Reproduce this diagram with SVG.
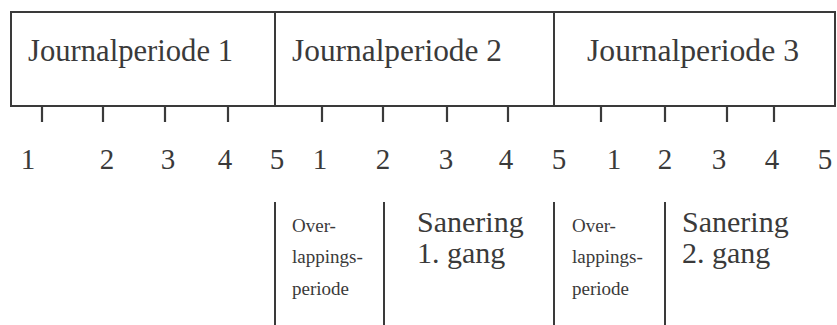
<svg xmlns="http://www.w3.org/2000/svg" width="837" height="325" viewBox="0 0 837 325">
  <style>
    .ln { stroke: #3a3a3a; stroke-width: 2; fill: none; }
    .tk { stroke: #3a3a3a; stroke-width: 2.2; }
    .t { font-family: 'Liberation Serif', 'DejaVu Serif', serif; fill: #3a3a3a; }
    .title { font-size: 32px; }
    .num { font-size: 29px; text-anchor: middle; }
    .small { font-size: 19px; }
    .big { font-size: 30px; }
  </style>
  <rect width="837" height="325" fill="#ffffff"/>

  <g id="journalperiode1">
    <rect class="ln" x="11" y="12" width="264" height="94"/>
    <text class="t title" font-family="Liberation Serif, DejaVu Serif, serif" x="28" y="61" textLength="205" lengthAdjust="spacingAndGlyphs">Journalperiode 1</text>
  </g>
  <g id="journalperiode2">
    <rect class="ln" x="275" y="12" width="279" height="94"/>
    <text class="t title" font-family="Liberation Serif, DejaVu Serif, serif" x="292" y="61" textLength="210" lengthAdjust="spacingAndGlyphs">Journalperiode 2</text>
  </g>
  <g id="journalperiode3">
    <rect class="ln" x="554" y="12" width="281" height="94"/>
    <text class="t title" font-family="Liberation Serif, DejaVu Serif, serif" x="587" y="61" textLength="212" lengthAdjust="spacingAndGlyphs">Journalperiode 3</text>
  </g>

  <g id="ticks">
    <line class="tk" x1="42" y1="106" x2="42" y2="122"/>
    <line class="tk" x1="103" y1="106" x2="103" y2="122"/>
    <line class="tk" x1="165" y1="106" x2="165" y2="122"/>
    <line class="tk" x1="228" y1="106" x2="228" y2="122"/>
    <line class="tk" x1="322" y1="106" x2="322" y2="122"/>
    <line class="tk" x1="383" y1="106" x2="383" y2="122"/>
    <line class="tk" x1="447" y1="106" x2="447" y2="122"/>
    <line class="tk" x1="508" y1="106" x2="508" y2="122"/>
    <line class="tk" x1="601" y1="106" x2="601" y2="122"/>
    <line class="tk" x1="665" y1="106" x2="665" y2="122"/>
    <line class="tk" x1="727" y1="106" x2="727" y2="122"/>
    <line class="tk" x1="774" y1="106" x2="774" y2="122"/>
  </g>

  <g id="numbers" class="t num" font-family="Liberation Serif, DejaVu Serif, serif">
    <text x="28" y="169">1</text>
    <text x="107" y="169">2</text>
    <text x="168" y="169">3</text>
    <text x="225" y="169">4</text>
    <text x="277" y="169">5</text>
    <text x="320" y="169">1</text>
    <text x="383" y="169">2</text>
    <text x="446" y="169">3</text>
    <text x="506" y="169">4</text>
    <text x="559" y="169">5</text>
    <text x="614" y="169">1</text>
    <text x="665" y="169">2</text>
    <text x="719" y="169">3</text>
    <text x="772" y="169">4</text>
    <text x="825" y="169">5</text>
  </g>

  <g id="dividers">
    <line class="ln" x1="275" y1="202" x2="275" y2="325"/>
    <line class="ln" x1="384" y1="202" x2="384" y2="325"/>
    <line class="ln" x1="554" y1="202" x2="554" y2="325"/>
    <line class="ln" x1="665" y1="202" x2="665" y2="325"/>
  </g>

  <g id="overlapping1" class="t small" font-family="Liberation Serif, DejaVu Serif, serif">
    <text x="292" y="232">Over-</text>
    <text x="292" y="263">lappings-</text>
    <text x="292" y="295">periode</text>
  </g>
  <g id="sanering1" class="t big" font-family="Liberation Serif, DejaVu Serif, serif">
    <text x="417" y="232">Sanering</text>
    <text x="417" y="263">1. gang</text>
  </g>
  <g id="overlapping2" class="t small" font-family="Liberation Serif, DejaVu Serif, serif">
    <text x="572" y="232">Over-</text>
    <text x="572" y="263">lappings-</text>
    <text x="572" y="295">periode</text>
  </g>
  <g id="sanering2" class="t big" font-family="Liberation Serif, DejaVu Serif, serif">
    <text x="682" y="232">Sanering</text>
    <text x="682" y="263">2. gang</text>
  </g>
</svg>
